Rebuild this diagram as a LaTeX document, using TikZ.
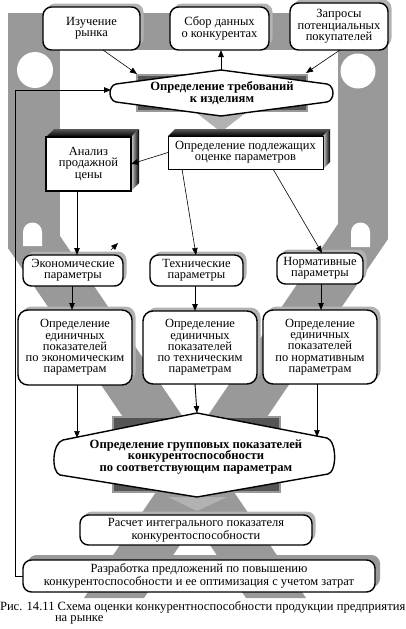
\documentclass[tikz,border=0pt]{standalone}
\usepackage{fontspec}
\setmainfont{Liberation Serif}
\usetikzlibrary{arrows.meta,shadows,calc}
\definecolor{framegray}{RGB}{153,153,153}
\definecolor{shd}{RGB}{178,178,178}
\definecolor{darkgray}{RGB}{85,85,85}
\tikzset{
  txt/.style={align=center, inner sep=0pt, outer sep=0pt, font=\fontsize{12.5}{11.3}\selectfont},
  btxt/.style={align=center, inner sep=0pt, outer sep=0pt, font=\fontsize{12.6}{11.8}\selectfont\bfseries},
  rbox/.style={draw, line width=1.4pt, rounded corners=8.5pt, fill=white, align=center,
    inner sep=1pt, outer sep=0pt, font=\fontsize{12.5}{11.3}\selectfont,
    general shadow={fill=shd, shadow xshift=3.5pt, shadow yshift=3.5pt}},
  box3/.style={draw, fill=white, align=center, inner sep=1pt, outer sep=0pt,
    font=\fontsize{12.5}{11.3}\selectfont},
  hexs/.style={draw, fill=white, line width=1.4pt},
  backrect/.style={fill=darkgray, draw=framegray, line width=1.5pt},
  arr/.style={-{Triangle[length=7pt,width=5.5pt]}, line width=0.6pt},
  varr/.style={-{Triangle[length=7pt,width=5.5pt]}, line width=0.9pt}
}
\begin{document}
\begin{tikzpicture}[x=1pt,y=-1pt]
\useasboundingbox (0,0) rectangle (406,629);
% ---------- background frame ----------
\fill[framegray] (8,13) rectangle (388,50);
\fill[framegray] (8,13) rectangle (60,249);
\fill[framegray] (338,13) rectangle (388,239);
\fill[framegray] (8,248) -- (60,236) -- (306,598) -- (246,598) -- cycle;
\fill[framegray] (338,224) -- (388,239) -- (144,598) -- (84,598) -- cycle;
\fill[white] (35,70) circle[radius=18pt];
\fill[white] (358,71) circle[radius=17.5pt];
\fill[white] (23,246) -- (23,232) arc[start angle=180, end angle=0, radius=9.5pt] -- (42,246) -- cycle;
\fill[white] (351,247) -- (351,232) arc[start angle=180, end angle=0, radius=9.5pt] -- (370,247) -- cycle;
% ---------- backing rectangles and triangles ----------
\filldraw[backrect] (137,75) rectangle (307,111);
\fill[shd] (194,111) -- (248,111) -- (221,132) -- cycle;
\filldraw[backrect] (113,417) rectangle (280,492);
\fill[shd] (168,497) -- (227,497) -- (197,511) -- cycle;
% ---------- top boxes ----------
\node[rbox, minimum width=97pt, minimum height=43pt] (isz) at (91.5,28.5) {Изучение\\рынка};
\node[rbox, minimum width=99pt, minimum height=43pt] (sbor) at (219.5,28.5) {Сбор данных\\о конкурентах};
\node[rbox, minimum width=98pt, minimum height=47pt] (zapr) at (339,26.5) {Запросы\\потенциальных\\покупателей};
% ---------- top hexagon ----------
\draw[hexs] (116,84) -- (221,70) -- (327,84) .. controls (335,86) and (335,100) .. (327,102)
  -- (221,116) -- (116,102) .. controls (108,100) and (108,86) .. (116,84) -- cycle;
\node[btxt] (req) at (222,93) {Определение требований\\к изделиям};
\coordinate (reqtop) at (221,70);
\coordinate (reqnw) at (137,74);
\coordinate (reqne) at (306,73);
\coordinate (reqw) at (111,90);
% ---------- 3D boxes ----------
\node[box3, line width=1.6pt, minimum width=85pt, minimum height=54pt] (anal) at (88.5,164) {Анализ\\продажной\\цены};
\shade[top color=gray!70!black, bottom color=black] (anal.north west) -- ++(8,-8) -- ($(anal.north east)+(8,-8)$) -- (anal.north east) -- cycle;
\shade[left color=gray!35, right color=black] (anal.north east) -- ++(8,-8) -- ($(anal.south east)+(8,-8)$) -- (anal.south east) -- cycle;
\draw[line width=1.6pt] (anal.north west) rectangle (anal.south east);
\node[box3, line width=0.9pt, minimum width=155pt, minimum height=33pt] (podl) at (245.5,152.5) {Определение подлежащих\\оценке параметров};
\shade[top color=gray!70!black, bottom color=black] (podl.north west) -- ++(7,-7) -- ($(podl.north east)+(7,-7)$) -- (podl.north east) -- cycle;
\shade[left color=gray!35, right color=black] (podl.north east) -- ++(7,-7) -- ($(podl.south east)+(7,-7)$) -- (podl.south east) -- cycle;
\draw[line width=0.9pt] (podl.north west) rectangle (podl.south east);
% ---------- parameter boxes ----------
\node[rbox, minimum width=100pt, minimum height=31pt] (econ) at (73,270.5) {Экономические\\параметры};
\node[rbox, minimum width=93pt, minimum height=31pt] (tech) at (196.5,270.5) {Технические\\параметры};
\node[rbox, minimum width=86pt, minimum height=31pt] (norm) at (320,268.5) {Нормативные\\параметры};
% ---------- detail boxes ----------
\node[rbox, rounded corners=10pt, minimum width=114pt, minimum height=75pt] (ed1) at (75,347.5) {Определение\\единичных\\показателей\\по экономическим\\параметрам};
\node[rbox, rounded corners=10pt, minimum width=114pt, minimum height=73pt] (ed2) at (200,347.5) {Определение\\единичных\\показателей\\по техническим\\параметрам};
\node[rbox, rounded corners=10pt, minimum width=114pt, minimum height=74pt] (ed3) at (320,347) {Определение\\единичных\\показателей\\по нормативным\\параметрам};
% ---------- bottom hexagon ----------
\draw[hexs] (63,440) -- (197,413) -- (327,438) .. controls (337,441) and (337,472) .. (328,474)
  -- (197,497) -- (60,475) .. controls (51,472) and (52,443) .. (63,440) -- cycle;
\node[btxt] (grp) at (196,457) {Определение групповых показателей\\конкурентоспособности\\по соответствующим параметрам};
\coordinate (grptop) at (197,413);
\coordinate (grpl) at (77,438);
\coordinate (grpr) at (317,437);
% ---------- bottom boxes ----------
\node[rbox, minimum width=232pt, minimum height=30pt] (rasch) at (196,530) {Расчет интегрального показателя\\конкурентоспособности};
\node[rbox, minimum width=352pt, minimum height=32pt, general shadow={fill=framegray, shadow xshift=5pt, shadow yshift=5pt}] (razr) at (199,576) {Разработка предложений по повышению\\конкурентоспособности и ее оптимизация с учетом затрат};
% ---------- connectors ----------
\draw[arr] ([xshift=11.5pt]isz.south) -- (reqnw);
\draw[varr] (reqtop) -- ([xshift=1.5pt]sbor.south);
\draw[arr] ([xshift=1pt]zapr.south) -- (reqne);
\draw[arr] (podl.west) -- (anal.east);
\draw[varr] ([xshift=-11.5pt]anal.south) -- ([xshift=4pt]econ.north);
\draw[arr] ([xshift=-63.5pt]podl.south) -- ([xshift=-0.5pt]tech.north);
\draw[arr] ([xshift=27.5pt]podl.south) -- ([xshift=2pt]norm.north);
\coordinate (s0) at (111,250);
\coordinate (s1) at (118,243);
\draw[arr] (s0) -- (s1);
\draw[varr] ([xshift=-1pt]econ.south) -- ([xshift=-3pt]ed1.north);
\draw[varr] ([xshift=-1.5pt]tech.south) -- ([xshift=-5pt]ed2.north);
\draw[varr] ([xshift=1pt]norm.south) -- ([xshift=1pt]ed3.north);
\draw[arr] ([xshift=2pt]ed1.south) -- (grpl);
\draw[varr] ([xshift=-5pt]ed2.south) -- (grptop);
\draw[arr] ([xshift=-3pt]ed3.south) -- (grpr);
\coordinate (fb) at (15,90);
\draw[arr, line width=0.8pt] (razr.west) -- (razr.west -| fb) -- (fb) -- (reqw);
% ---------- caption ----------
\node[txt, anchor=west, font=\fontsize{12.6}{12}\selectfont] (cap1) at (0,607) {Рис. 14.11 Схема оценки конкурентноспособности продукции предприятия};
\node[txt, anchor=west, font=\fontsize{12.6}{12}\selectfont] (cap2) at (55,620) {на рынке};
\end{tikzpicture}
\end{document}
